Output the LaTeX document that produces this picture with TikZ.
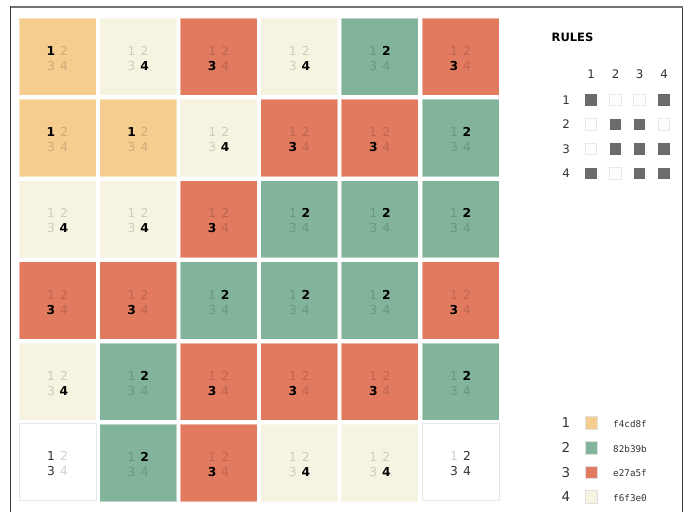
\documentclass[tikz,border=0pt]{standalone}
\usepackage{fontspec}
\setmainfont{DejaVu Sans}
\newfontfamily\monof{DejaVu Sans Mono}
\definecolor{c1}{HTML}{F4CD8F}
\definecolor{c2}{HTML}{82B39B}
\definecolor{c3}{HTML}{E27A5F}
\definecolor{c4}{HTML}{F6F3E0}
\definecolor{ruleon}{HTML}{6B6B6B}
\definecolor{ruleoff}{HTML}{E8E8E8}
\definecolor{txt}{HTML}{333333}
\tikzset{
  cellbox/.style={minimum width=77pt, minimum height=77.3pt, inner sep=0pt, draw=white, draw opacity=0.45, line width=0.8pt},
  emptybox/.style={minimum width=77pt, minimum height=77.3pt, inner sep=0pt, fill=white, draw=ruleoff, line width=0.9pt},
  digon/.style={font=\fontsize{12.3}{13}\selectfont\bfseries, text=black, inner sep=0pt, anchor=base},
  digoff/.style={font=\fontsize{12.3}{13}\selectfont, text=black, text opacity=0.16, inner sep=0pt, anchor=base},
  digdark/.style={font=\fontsize{12.3}{13}\selectfont, text=txt, inner sep=0pt, anchor=base},
  diglight/.style={font=\fontsize{12.3}{13}\selectfont, text=black!18, inner sep=0pt, anchor=base},
  lbl/.style={font=\fontsize{11.8}{13}\selectfont, text=txt, inner sep=0pt, anchor=base},
  rsq/.style={minimum size=11.5pt, inner sep=0pt},
  rson/.style={rsq, fill=ruleon},
  rsoff/.style={rsq, fill=white, draw=ruleoff, line width=0.8pt},
  swatch/.style={minimum size=12.5pt, inner sep=0pt, draw=black!12, line width=0.7pt},
  hex/.style={font=\monof\fontsize{9.3}{10}\selectfont, text=txt, inner sep=0pt, anchor=west},
  leglbl/.style={font=\fontsize{13.5}{14}\selectfont, text=txt, inner sep=0pt, anchor=base},
  frame/.style={draw=black!75, line width=1.4pt}
}
\begin{document}
\begin{tikzpicture}[x=1pt,y=-1pt]
\useasboundingbox (0,0) rectangle (684,512);
\fill[white] (0,0) rectangle (684,512);
% frame
\draw[frame] (10.5,512) -- (10.5,6.5) -- (682.7,6.5) -- (682.7,512);
\draw[draw=black!55, line width=2pt] (10.5,6.5) -- (682.7,6.5);
% grid of collapsed cells (0 = undecided)
\foreach \v [count=\k from 0] in {1,4,3,4,2,3, 1,1,4,3,3,2, 4,4,3,2,2,2, 3,3,2,2,2,3, 4,2,3,3,3,2, 0,2,3,4,4,0}{
  \pgfmathtruncatemacro\cc{mod(\k,6)}
  \pgfmathtruncatemacro\rr{int(\k/6)}
  \pgfmathsetmacro\cx{19+80.6*\cc+38.5}
  \pgfmathsetmacro\cy{18+81.3*\rr+38.6}
  \ifnum\v>0
    \node[cellbox, fill=c\v] (cell-\rr-\cc) at (\cx,\cy) {};
    \foreach \d/\dx/\dy in {1/-6.5/-1.4, 2/6.5/-1.4, 3/-6.5/13.6, 4/6.5/13.6}{
      \ifnum\d=\v
        \node[digon] (d-\rr-\cc-\d) at (\cx+\dx,\cy+\dy) {\d};
      \else
        \node[digoff] (d-\rr-\cc-\d) at (\cx+\dx,\cy+\dy) {\d};
      \fi
    }
  \fi
}
% undecided cells
\node[emptybox] (cell-5-0) at (57.5,462.1) {};
\node[digdark]  (d-5-0-1) at (51,460.7) {1};
\node[diglight] (d-5-0-2) at (64,460.7) {2};
\node[digdark]  (d-5-0-3) at (51,475.7) {3};
\node[diglight] (d-5-0-4) at (64,475.7) {4};
\node[emptybox] (cell-5-5) at (460.5,462.1) {};
\node[diglight] (d-5-5-1) at (454,460.7) {1};
\node[digdark]  (d-5-5-2) at (467,460.7) {2};
\node[digdark]  (d-5-5-3) at (454,475.7) {3};
\node[digdark]  (d-5-5-4) at (467,475.7) {4};
% rules panel
\node[font=\fontsize{11.5}{13}\selectfont\bfseries, inner sep=0pt, anchor=base west] (rules) at (551.5,41) {RULES};
\foreach \c/\x in {1/591,2/615.5,3/639.5,4/664}{
  \node[lbl] (h-\c) at (\x,78.2) {\c};
}
\foreach \r/\y in {1/100,2/124.5,3/149,4/173.5}{
  \node[lbl] (rl-\r) at (566,\y+4.2) {\r};
}
\foreach \r/\y/\row in {1/100/{1,0,0,1}, 2/124.5/{0,1,1,0}, 3/149/{0,1,1,1}, 4/173.5/{1,0,1,1}}{
  \foreach \b [count=\c] in \row {
    \pgfmathsetmacro\xx{591+24.3*(\c-1)}
    \ifnum\b=1
      \node[rson] (rs-\r-\c) at (\xx,\y) {};
    \else
      \node[rsoff] (rs-\r-\c) at (\xx,\y) {};
    \fi
  }
}
% legend
\foreach \n/\y/\h in {1/423/f4cd8f, 2/447.7/82b39b, 3/472.2/e27a5f, 4/496.7/f6f3e0}{
  \node[leglbl] (ln-\n) at (566,\y+4.9) {\n};
  \node[swatch, fill=c\n] (sw-\n) at (591.3,\y) {};
  \node[hex] (hx-\n) at (613,\y+1.3) {\h};
}
\end{tikzpicture}
\end{document}
